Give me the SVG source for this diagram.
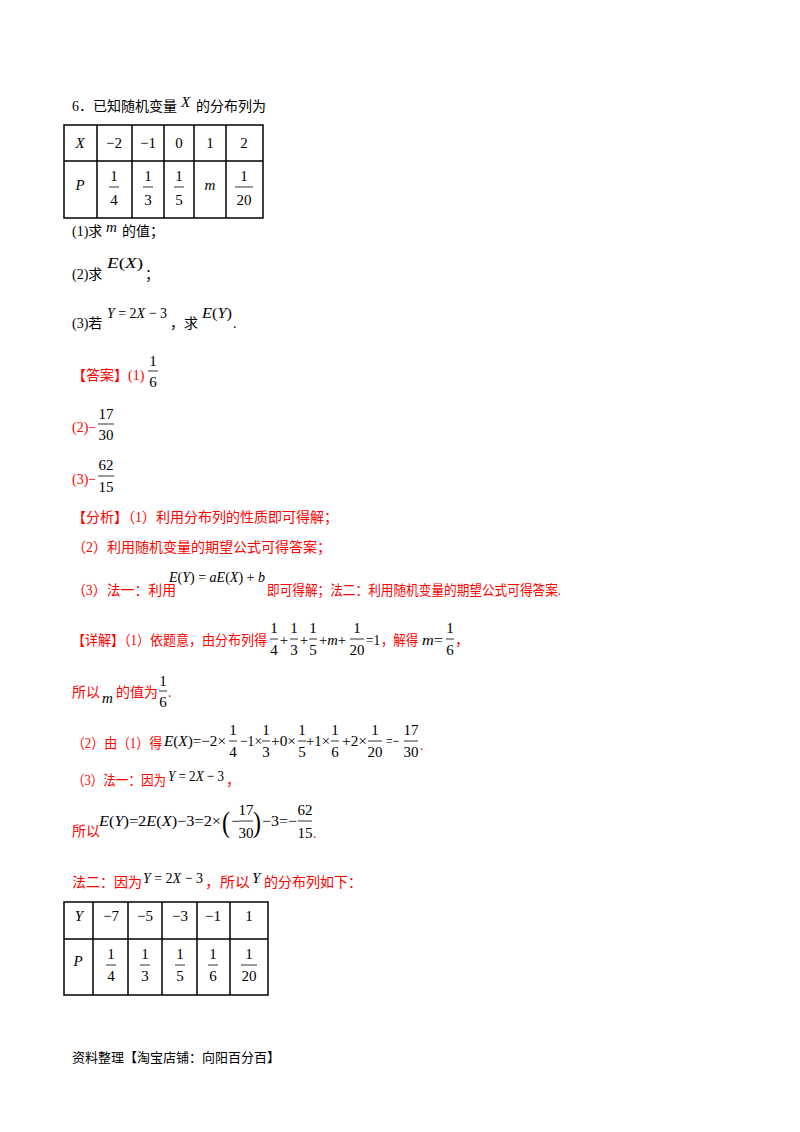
<svg xmlns="http://www.w3.org/2000/svg" width="800" height="1132" viewBox="0 0 800 1132">
<style>
.t{font-family:"Liberation Serif","Noto Sans CJK SC",serif;font-size:14px;fill:#000}
.r{fill:#f00}
.m{font-family:"Liberation Serif",serif;font-size:15px;fill:#000}
.i{font-style:italic}
.c{text-anchor:middle}
.f{stroke:#000;stroke-width:0.8}
.tb{fill:none;stroke:#000;stroke-width:1.5}
</style>
<rect width="800" height="1132" fill="#fff"/>
<g id="question">
<text class="t" x="72" y="111">6．已知随机变量</text>
<text class="m i" x="181" y="107">X</text>
<text class="t" x="196" y="111">的分布列为</text>
</g>
<g id="table1">
<rect class="tb" x="64" y="125" width="199" height="93"/>
<path class="tb" d="M64 161H263M97 125V218M132 125V218M164 125V218M194 125V218M226 125V218"/>
<g class="m c">
<text x="80" y="148" class="i">X</text><text x="114" y="148">−2</text><text x="148" y="148">−1</text><text x="179" y="148">0</text><text x="210" y="148">1</text><text x="244" y="148">2</text>
<text x="80" y="190" class="i">P</text>
<text x="114" y="181">1</text><text x="114" y="205">4</text>
<text x="148" y="181">1</text><text x="148" y="205">3</text>
<text x="179" y="181">1</text><text x="179" y="205">5</text>
<text x="210" y="190" class="i">m</text>
<text x="244" y="181">1</text><text x="244" y="205">20</text>
</g>
<path class="f" d="M109 187h10M143 187h10M174 187h10M235 187h18"/>
</g>
<g id="parts">
<text class="t" x="72" y="236">(1)求</text><text class="m i" x="106" y="232">m</text><text class="t" x="122" y="236">的值；</text>
<text class="t" x="72" y="279">(2)求</text><text class="m" x="107" y="268" textLength="36" lengthAdjust="spacingAndGlyphs"><tspan class="i">E</tspan>(<tspan class="i">X</tspan>)</text><text class="t" x="145" y="279">；</text>
<text class="t" x="72" y="328">(3)若</text><text class="m" x="107" y="318" textLength="60" lengthAdjust="spacingAndGlyphs"><tspan class="i">Y</tspan> = 2<tspan class="i">X</tspan> − 3</text><text class="t" x="170" y="328">，求</text><text class="m" x="202" y="318" textLength="30" lengthAdjust="spacingAndGlyphs"><tspan class="i">E</tspan>(<tspan class="i">Y</tspan>)</text><text class="t" x="233" y="328">.</text>
</g>
<g id="answer">
<text class="t r" x="72" y="380">【答案】(1)</text>
<text class="m c" x="153" y="366">1</text><line class="f" x1="148" y1="371" x2="158" y2="371"/><text class="m c" x="153" y="387">6</text>
<text class="t r" x="72" y="432">(2)−</text>
<text class="m c" x="106" y="419">17</text><line class="f" x1="98" y1="424" x2="114" y2="424"/><text class="m c" x="106" y="440">30</text>
<text class="t r" x="72" y="484">(3)−</text>
<text class="m c" x="106" y="470">62</text><line class="f" x1="98" y1="476" x2="114" y2="476"/><text class="m c" x="106" y="492">15</text>
</g>
<g id="analysis">
<text class="t r" x="72" y="522">【分析】（1）利用分布列的性质即可得解；</text>
<text class="t r" x="72" y="552">（2）利用随机变量的期望公式可得答案；</text>
<text class="t r" x="72" y="595" textLength="104" lengthAdjust="spacingAndGlyphs">（3）法一：利用</text>
<text class="m" x="169" y="582" textLength="96" lengthAdjust="spacingAndGlyphs"><tspan class="i">E</tspan>(<tspan class="i">Y</tspan>) = <tspan class="i">aE</tspan>(<tspan class="i">X</tspan>) + <tspan class="i">b</tspan></text>
<text class="t r" x="267" y="595" textLength="294" lengthAdjust="spacingAndGlyphs">即可得解；法二：利用随机变量的期望公式可得答案.</text>
</g>
<g id="detail">
<text class="t r" x="72" y="645" textLength="195" lengthAdjust="spacingAndGlyphs">【详解】（1）依题意，由分布列得</text>
<g class="m c">
<text x="274" y="633">1</text><text x="274" y="655">4</text>
<text x="294" y="633">1</text><text x="294" y="655">3</text>
<text x="313" y="633">1</text><text x="313" y="655">5</text>
<text x="357" y="633">1</text><text x="357" y="655">20</text>
<text x="450" y="633">1</text><text x="450" y="655">6</text>
<text x="284" y="645">+</text><text x="304" y="645">+</text>
</g>
<text class="m" x="319" y="645" textLength="27" lengthAdjust="spacingAndGlyphs">+<tspan class="i">m</tspan>+</text>
<text class="m" x="366" y="645" textLength="14" lengthAdjust="spacingAndGlyphs">=1</text>
<text class="t r" x="381" y="645" textLength="37" lengthAdjust="spacingAndGlyphs">，解得</text>
<text class="m" x="422" y="645" textLength="21" lengthAdjust="spacingAndGlyphs"><tspan class="i">m</tspan>=</text>
<text class="t r" x="455" y="645">，</text>
<path class="f" d="M270 639h8M290 639h8M309 639h8M350 639h14M446 639h8"/>

<text class="t r" x="72" y="697">所以</text><text class="m i" x="102" y="703">m</text><text class="t r" x="116" y="697" textLength="42" lengthAdjust="spacingAndGlyphs">的值为</text>
<text class="m c" x="163" y="686">1</text><line class="f" x1="159" y1="691" x2="167" y2="691"/><text class="m c" x="163" y="707">6</text><text class="t r" x="168" y="697">.</text>

<text class="t r" x="72" y="748" textLength="90" lengthAdjust="spacingAndGlyphs">（2）由（1）得</text>
<text class="m" x="164" y="746" textLength="62" lengthAdjust="spacingAndGlyphs"><tspan class="i">E</tspan>(<tspan class="i">X</tspan>)=−2×</text>
<text class="m" x="240" y="746" textLength="22" lengthAdjust="spacingAndGlyphs">−1×</text>
<text class="m" x="271" y="746" textLength="25" lengthAdjust="spacingAndGlyphs">+0×</text>
<text class="m" x="306" y="746" textLength="24" lengthAdjust="spacingAndGlyphs">+1×</text>
<text class="m" x="342" y="746" textLength="25" lengthAdjust="spacingAndGlyphs">+2×</text>
<text class="m" x="386" y="746" textLength="13" lengthAdjust="spacingAndGlyphs">=−</text>
<g class="m c">
<text x="233" y="735">1</text><text x="233" y="757">4</text>
<text x="266" y="735">1</text><text x="266" y="757">3</text>
<text x="302" y="735">1</text><text x="302" y="757">5</text>
<text x="335" y="735">1</text><text x="335" y="757">6</text>
<text x="375" y="735">1</text><text x="375" y="757">20</text>
<text x="411" y="735">17</text><text x="411" y="757">30</text>
</g>
<path class="f" d="M229 741h8M262 741h8M298 741h8M331 741h8M368 741h14M404 741h14"/>
<text class="t r" x="420" y="750">.</text>

<text class="t r" x="72" y="785" textLength="94" lengthAdjust="spacingAndGlyphs">（3）法一：因为</text>
<text class="m" x="168" y="781" textLength="56" lengthAdjust="spacingAndGlyphs"><tspan class="i">Y</tspan> = 2<tspan class="i">X</tspan> − 3</text>
<text class="t r" x="226" y="785">，</text>

<text class="t r" x="72" y="836">所以</text>
<text class="m" x="99" y="826" textLength="122" lengthAdjust="spacingAndGlyphs"><tspan class="i">E</tspan>(<tspan class="i">Y</tspan>)=2<tspan class="i">E</tspan>(<tspan class="i">X</tspan>)−3=2×</text>
<text class="m" x="222" y="832" style="font-size:30px" textLength="8" lengthAdjust="spacingAndGlyphs">(</text>
<text class="m" x="231" y="826">−</text>
<text class="m c" x="246" y="815">17</text><text class="m c" x="246" y="838">30</text>
<line class="f" x1="239" y1="821" x2="253" y2="821"/>
<text class="m" x="253" y="832" style="font-size:30px" textLength="8" lengthAdjust="spacingAndGlyphs">)</text>
<text class="m" x="262" y="826" textLength="35" lengthAdjust="spacingAndGlyphs">−3=−</text>
<text class="m c" x="305" y="815">62</text><text class="m c" x="305" y="838">15</text>
<line class="f" x1="298" y1="821" x2="312" y2="821"/>
<text class="t r" x="313" y="838">.</text>

<text class="t r" x="72" y="887">法二：因为</text>
<text class="m" x="143" y="883" textLength="60" lengthAdjust="spacingAndGlyphs"><tspan class="i">Y</tspan> = 2<tspan class="i">X</tspan> − 3</text>
<text class="t r" x="205" y="887" textLength="45" lengthAdjust="spacingAndGlyphs">，所以</text>
<text class="m i" x="252" y="883">Y</text>
<text class="t r" x="264" y="887">的分布列如下：</text>
</g>
<g id="table2">
<rect class="tb" x="64" y="902" width="204" height="93"/>
<path class="tb" d="M64 939H268M93 902V995M128 902V995M162 902V995M197 902V995M230 902V995"/>
<g class="m c">
<text x="79" y="921" class="i">Y</text><text x="111" y="921">−7</text><text x="145" y="921">−5</text><text x="180" y="921">−3</text><text x="213" y="921">−1</text><text x="249" y="921">1</text>
<text x="78" y="966" class="i">P</text>
<text x="111" y="959">1</text><text x="111" y="981">4</text>
<text x="145" y="959">1</text><text x="145" y="981">3</text>
<text x="180" y="959">1</text><text x="180" y="981">5</text>
<text x="213" y="959">1</text><text x="213" y="981">6</text>
<text x="249" y="959">1</text><text x="249" y="981">20</text>
</g>
<path class="f" d="M106 965h10M140 965h10M175 965h10M208 965h10M241 965h16"/>
</g>
<g id="footer"><text class="t" x="72" y="1062" style="font-size:13px">资料整理【淘宝店铺：向阳百分百】</text></g>
</svg>
